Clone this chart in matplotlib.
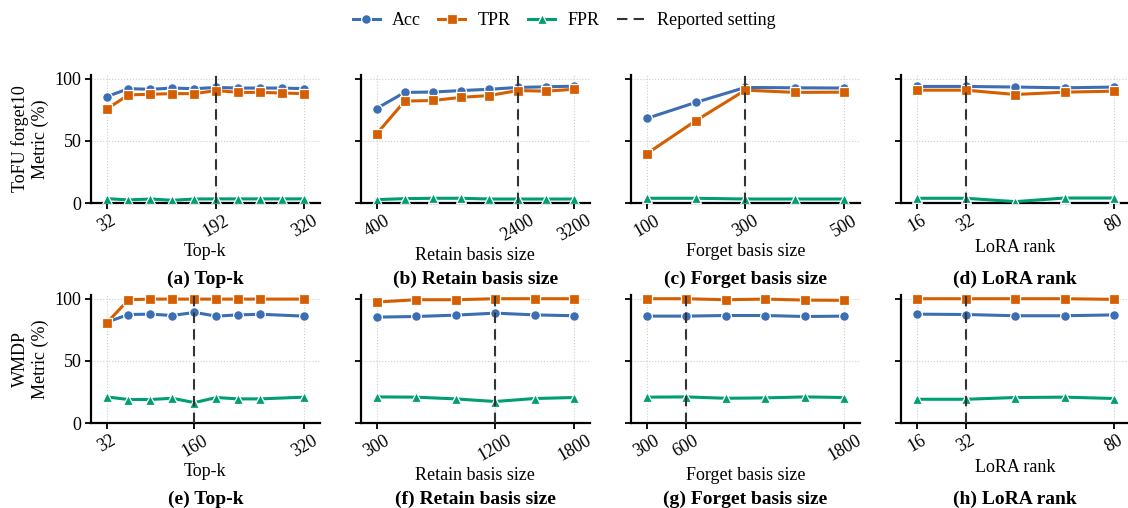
import matplotlib
matplotlib.use("Agg")
import matplotlib.pyplot as plt
from matplotlib.lines import Line2D

plt.rcParams['font.family'] = ['Liberation Serif', 'DejaVu Serif']
plt.rcParams['font.size'] = 13

# ---------------- data ----------------
# Row 1: ToFU forget10
a_x = [32, 64, 96, 128, 160, 192, 224, 256, 288, 320]
a_acc = [85.5, 92, 91.5, 92.5, 92, 93, 92.5, 92.5, 92.5, 92]
a_tpr = [75.5, 87, 87.5, 88, 88, 90.5, 89, 89, 88.5, 88]
a_fpr = [3.5, 2.5, 3.2, 2.2, 3.2, 3.3, 3.3, 3.3, 3.3, 3.3]
a_ticks = [32, 192, 320]
a_rep = 192

b_x = [400, 800, 1200, 1600, 2000, 2400, 2800, 3200]
b_acc = [76, 89, 89.3, 90.5, 91.5, 93, 93.5, 94]
b_tpr = [55.5, 82, 82.5, 85, 86.5, 90.5, 90, 91.5]
b_fpr = [2.7, 3.5, 3.8, 3.8, 3.2, 3.2, 3.2, 3.2]
b_ticks = [400, 2400, 3200]
b_rep = 2400

c_x = [100, 200, 300, 400, 500]
c_acc = [68, 81, 93, 92.7, 92.5]
c_tpr = [39.5, 66.3, 90.8, 89, 89.2]
c_fpr = [3.8, 3.8, 3.2, 3.2, 3.2]
c_ticks = [100, 300, 500]
c_rep = 300

d_x = [16, 32, 48, 64, 80]
d_acc = [93.8, 93.8, 93.3, 92.7, 93.3]
d_tpr = [90.8, 90.8, 87.3, 89.2, 90]
d_fpr = [3.8, 3.8, 1.1, 4.0, 4.0]
d_ticks = [16, 32, 80]
d_rep = 32

# Row 2: WMDP
e_x = [32, 64, 96, 128, 160, 192, 224, 256, 320]
e_acc = [81, 87.3, 87.6, 86.5, 89, 86, 87, 87.5, 86]
e_tpr = [80.3, 99.2, 99.7, 99.7, 99.7, 99.7, 99.7, 99.7, 99.7]
e_fpr = [21, 18.9, 18.9, 19.9, 16.4, 20.5, 19.4, 19.4, 20.8]
e_ticks = [32, 160, 320]
e_rep = 160

f_x = [300, 600, 900, 1200, 1500, 1800]
f_acc = [85.2, 85.7, 86.8, 88.4, 87, 86.3]
f_tpr = [97.3, 99.2, 99.2, 100, 100, 100]
f_fpr = [21, 20.8, 19.4, 17.3, 19.7, 20.5]
f_ticks = [300, 1200, 1800]
f_rep = 1200

g_x = [300, 600, 900, 1200, 1500, 1800]
g_acc = [86, 86, 86.5, 86.5, 85.7, 86]
g_tpr = [100, 100, 99.2, 99.7, 98.9, 98.7]
g_fpr = [20.8, 21, 19.9, 20.2, 21, 20.5]
g_ticks = [300, 600, 1800]
g_rep = 600

h_x = [16, 32, 48, 64, 80]
h_acc = [87.6, 87.3, 86.3, 86.3, 87]
h_tpr = [100, 100, 100, 100, 99.5]
h_fpr = [19.1, 19.1, 20.5, 20.8, 19.7]
h_ticks = [16, 32, 80]
h_rep = 32

panels = [
    (a_x, a_acc, a_tpr, a_fpr, a_ticks, a_rep, "Top-k", "(a) Top-k"),
    (b_x, b_acc, b_tpr, b_fpr, b_ticks, b_rep, "Retain basis size", "(b) Retain basis size"),
    (c_x, c_acc, c_tpr, c_fpr, c_ticks, c_rep, "Forget basis size", "(c) Forget basis size"),
    (d_x, d_acc, d_tpr, d_fpr, d_ticks, d_rep, "LoRA rank", "(d) LoRA rank"),
    (e_x, e_acc, e_tpr, e_fpr, e_ticks, e_rep, "Top-k", "(e) Top-k"),
    (f_x, f_acc, f_tpr, f_fpr, f_ticks, f_rep, "Retain basis size", "(f) Retain basis size"),
    (g_x, g_acc, g_tpr, g_fpr, g_ticks, g_rep, "Forget basis size", "(g) Forget basis size"),
    (h_x, h_acc, h_tpr, h_fpr, h_ticks, h_rep, "LoRA rank", "(h) LoRA rank"),
]
row_labels = ["ToFU forget10\nMetric (%)", "WMDP\nMetric (%)"]

C_ACC = "#3C6EB4"
C_TPR = "#D55E00"
C_FPR = "#009E73"

W, H = 1128, 508
fig = plt.figure(figsize=(W / 100, H / 100), dpi=100)

lefts = [90.7, 360.7, 630.7, 900.7]
axw = 229.3
rows_top = [75, 295]
axh = 128

kw = dict(lw=2.2, mec="white", mew=0.9, ms=7)

for i, (x, acc, tpr, fpr, ticks, rep, xlabel, cap) in enumerate(panels):
    r, c = divmod(i, 4)
    ax = fig.add_axes([lefts[c] / W, 1 - (rows_top[r] + axh) / H, axw / W, axh / H])
    ax.plot(x, acc, color=C_ACC, marker="o", zorder=3, **kw)
    ax.plot(x, tpr, color=C_TPR, marker="s", zorder=3, **kw)
    ax.plot(x, fpr, color=C_FPR, marker="^", zorder=3, **kw)
    ax.axvline(rep, color="#333333", ls=(0, (5, 3)), lw=1.5, zorder=4)
    ax.set_ylim(0, 103)
    ax.set_yticks([0, 50, 100])
    ax.margins(x=0.08)
    ax.set_xticks(ticks)
    ax.set_xticklabels([str(t) for t in ticks], rotation=30, ha="center")
    ax.grid(True, ls=":", color="#cccccc", lw=0.8)
    ax.set_axisbelow(True)
    for s in ["top", "right"]:
        ax.spines[s].set_visible(False)
    for s in ["left", "bottom"]:
        ax.spines[s].set_linewidth(1.6)
    ax.tick_params(axis="both", length=4.5, width=1.3, labelsize=13, pad=2)
    ax.set_xlabel(xlabel, fontsize=13, labelpad=2)
    if c == 0:
        ax.set_ylabel(row_labels[r], fontsize=13, labelpad=4)
    else:
        ax.set_yticklabels([])
    ax.text(0.5, -0.60, cap, transform=ax.transAxes,
            ha="center", va="center", fontsize=14, fontweight="bold")

handles = [
    Line2D([], [], color=C_ACC, marker="o", **kw),
    Line2D([], [], color=C_TPR, marker="s", **kw),
    Line2D([], [], color=C_FPR, marker="^", **kw),
    Line2D([], [], color="#333333", ls=(0, (5, 3)), lw=1.5),
]
fig.legend(handles, ["Acc", "TPR", "FPR", "Reported setting"], loc="center",
           bbox_to_anchor=(0.5, 1 - 20.7 / H), ncol=4, frameon=False, fontsize=13,
           handlelength=1.5, columnspacing=0.95, handletextpad=0.7)

fig.savefig("out.png", dpi=100)
